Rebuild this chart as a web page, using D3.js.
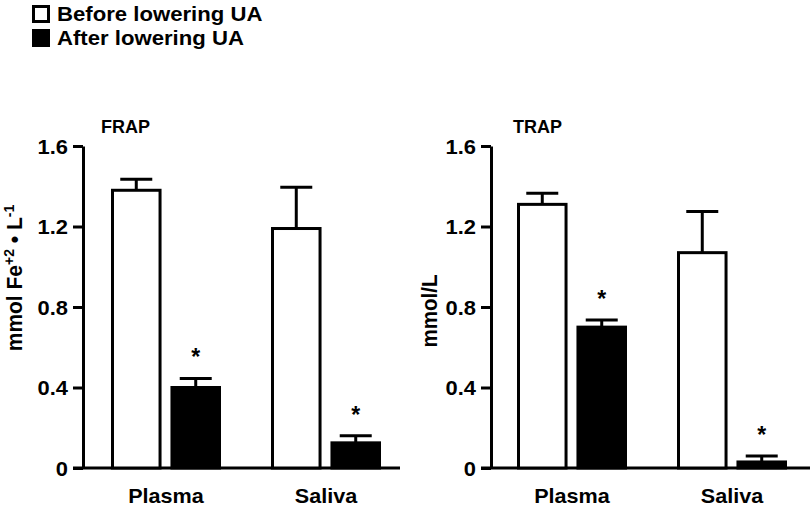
<!DOCTYPE html>
<html><head><meta charset="utf-8">
<script src="https://cdn.jsdelivr.net/npm/d3@7"></script>
<style>
body{margin:0;background:#fff}
text{font-family:"Liberation Sans",Arial,Helvetica,sans-serif;font-weight:bold;fill:#000}
</style>
</head><body><svg id="c" width="812" height="507"></svg>
<script>
// ---- data ----
const categories = ["Plasma", "Saliva"];
const seriesNames = ["Before lowering UA", "After lowering UA"];
const yTicks = [0, 0.4, 0.8, 1.2, 1.6];
const yTickLabels = ["0", "0.4", "0.8", "1.2", "1.6"];
const frapBefore = [1.38, 1.19];
const frapBeforeErr = [0.055, 0.205];
const frapAfter = [0.40, 0.125];
const frapAfterErr = [0.045, 0.035];
const trapBefore = [1.31, 1.07];
const trapBeforeErr = [0.055, 0.205];
const trapAfter = [0.70, 0.03];
const trapAfterErr = [0.035, 0.03];
const afterSignificant = [true, true];

const svg = d3.select("#c");
const y = d3.scaleLinear().domain([0, 1.6]).range([468, 146]);
const sub = d3.scaleBand().domain(["before", "after"]).range([-55, 55]).paddingInner(0.15);

const panels = [
  {title: "FRAP", axisX: 83, xRange: [166, 326], baseEnd: 400, titleX: 101,
   before: frapBefore, beforeErr: frapBeforeErr, after: frapAfter, afterErr: frapAfterErr},
  {title: "TRAP", axisX: 491, xRange: [572, 732], baseEnd: 810, titleX: 513,
   before: trapBefore, beforeErr: trapBeforeErr, after: trapAfter, afterErr: trapAfterErr}
];

panels.forEach((p, pi) => {
  const x = d3.scalePoint().domain(categories).range(p.xRange);
  const g = svg.append("g");
  // y axis
  const ax = d3.axisLeft(y).tickValues(yTicks).tickFormat((d, i) => yTickLabels[i])
    .tickSize(10).tickSizeOuter(0).tickPadding(4);
  const ag = g.append("g").attr("transform", `translate(${p.axisX},0)`).call(ax);
  ag.selectAll("path,line").attr("stroke", "#000").attr("stroke-width", 3);
  ag.selectAll("text").attr("font-size", 20.5).attr("dy", "0.36em")
    .attr("font-family", '"Liberation Sans",Arial,sans-serif').attr("font-weight", "bold")
    .attr("transform", "scale(1.07,1)").attr("fill", "#000");
  // baseline
  g.append("line").attr("x1", p.axisX - 10).attr("x2", p.baseEnd)
    .attr("y1", y(0)).attr("y2", y(0)).attr("stroke", "#000").attr("stroke-width", 3);

  const rows = [];
  categories.forEach((c, i) => {
    rows.push({cat: c, s: "before", v: p.before[i], e: p.beforeErr[i], sig: false});
    rows.push({cat: c, s: "after", v: p.after[i], e: p.afterErr[i], sig: afterSignificant[i]});
  });
  const bw = sub.bandwidth();
  rows.forEach(r => {
    const x0 = x(r.cat) + sub(r.s);
    const cx = x0 + bw / 2;
    g.append("rect").attr("x", x0 + 1.5).attr("width", bw - 3)
      .attr("y", y(r.v)).attr("height", y(0) - y(r.v))
      .attr("fill", r.s === "before" ? "#fff" : "#000")
      .attr("stroke", "#000").attr("stroke-width", 3);
    const top = y(r.v + r.e);
    g.append("line").attr("x1", cx).attr("x2", cx).attr("y1", y(r.v)).attr("y2", top)
      .attr("stroke", "#000").attr("stroke-width", 3);
    g.append("line").attr("x1", cx - 16).attr("x2", cx + 16).attr("y1", top).attr("y2", top)
      .attr("stroke", "#000").attr("stroke-width", 3);
    if (r.sig) {
      g.append("text").attr("x", cx).attr("y", top - 13).attr("text-anchor", "middle")
        .attr("font-size", 23).text("*");
    }
  });
  // category labels
  categories.forEach(c => {
    g.append("text").attr("transform", `translate(${x(c)},503) scale(1.08,1)`)
      .attr("text-anchor", "middle").attr("font-size", 20).text(c);
  });
  // title
  g.append("text").attr("transform", `translate(${p.titleX},133)`).attr("font-size", 18).text(p.title);
});

// y-axis labels
const yl = svg.append("text").attr("transform", "translate(22,278) rotate(-90) scale(1,1.07)")
  .attr("text-anchor", "middle").attr("font-size", 21);
yl.append("tspan").text("mmol Fe");
yl.append("tspan").attr("font-size", 14).attr("baseline-shift", "super").text("+2");
yl.append("tspan").text(" \u2022 L");
yl.append("tspan").attr("font-size", 14).attr("baseline-shift", "super").text("-1");

svg.append("text").attr("transform", "translate(437,311) rotate(-90) scale(1,1.07)")
  .attr("text-anchor", "middle").attr("font-size", 20.5).text("mmol/L");

// legend
const lg = svg.append("g");
seriesNames.forEach((name, i) => {
  const yy = 5 + i * 24;
  lg.append("rect").attr("x", 33.5).attr("y", yy + 1.5).attr("width", 15).attr("height", 15)
    .attr("fill", i === 0 ? "#fff" : "#000").attr("stroke", "#000").attr("stroke-width", 3);
  lg.append("text").attr("transform", `translate(57,${yy + 16}) scale(1.08,1)`)
    .attr("font-size", 20.5).text(name);
});
</script>
</body></html>
